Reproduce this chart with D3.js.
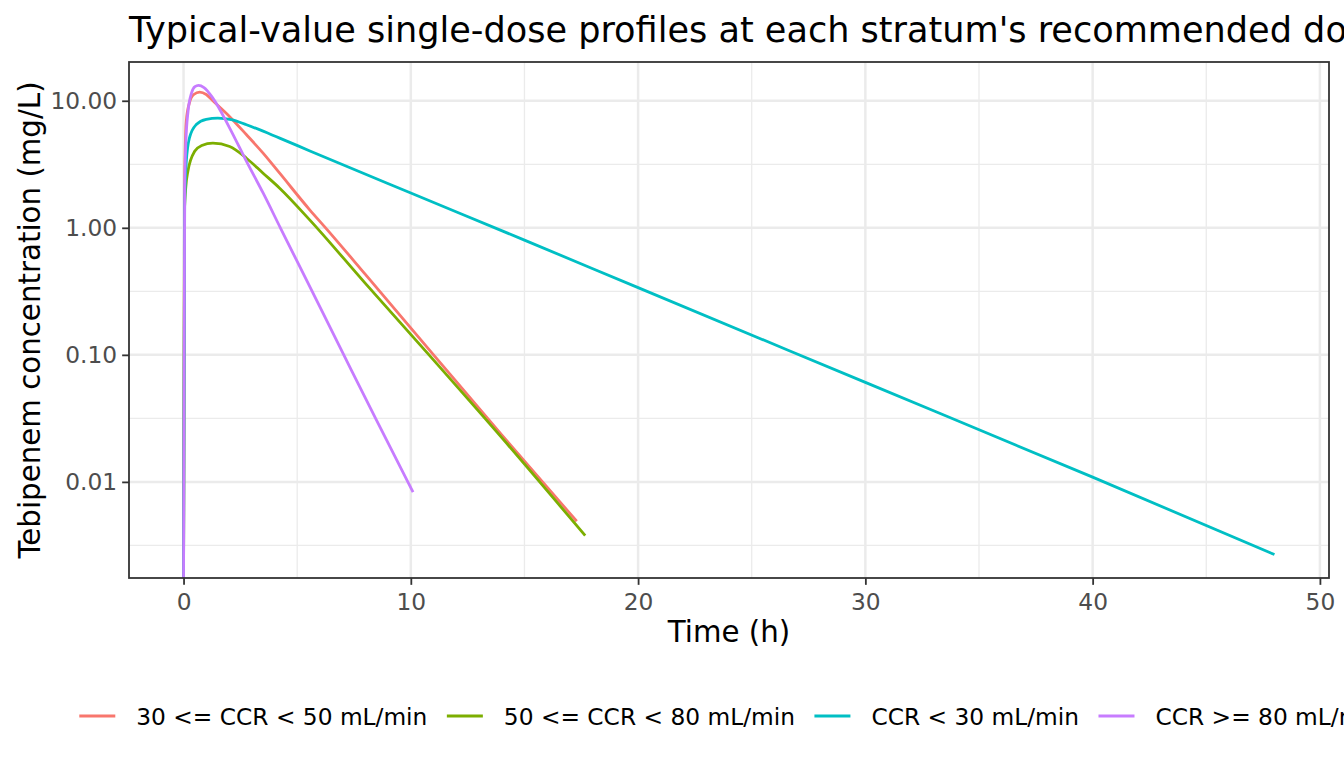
<!DOCTYPE html>
<html>
<head>
<meta charset="utf-8">
<script src="https://cdn.jsdelivr.net/npm/d3@7"></script>
<style>
  body { margin: 0; background: #fff; }
  text { font-family: "DejaVu Sans", sans-serif; }
</style>
</head>
<body>
<svg id="chart"></svg>
<script>
// values
const strata = ["30 <= CCR < 50 mL/min", "50 <= CCR < 80 mL/min", "CCR < 30 mL/min", "CCR >= 80 mL/min"]

const time30to50 = [0, 0.05, 0.12, 0.25, 0.45, 0.71, 1.0, 1.29, 2.03, 2.77, 3.5, 4.23, 5.56, 6.25, 8, 11, 14, 17.3]
const conc30to50 = [0, 2.5, 6.9, 9.5, 11.2, 11.7, 11.2, 10.0, 7.5, 5.4, 3.87, 2.69, 1.38, 1.0, 0.43, 0.1, 0.0234, 0.0049]

const time50to80 = [0, 0.04, 0.1, 0.19, 0.49, 0.8, 1.29, 2.03, 2.77, 3.5, 4.23, 5.56, 8, 10.8, 14, 17.67]
const conc50to80 = [0, 1.34, 2.1, 2.78, 4.0, 4.45, 4.64, 4.37, 3.53, 2.69, 2.05, 1.15, 0.365, 0.1, 0.0223, 0.00378]

const timeBelow30 = [0, 0.05, 0.12, 0.26, 0.56, 1.0, 1.51, 2.1, 2.77, 4.23, 5.56, 10, 15, 20, 30, 40, 48]
const concBelow30 = [0, 1.5, 3.3, 5.1, 6.5, 7.15, 7.3, 7.1, 6.47, 5.08, 4.03, 1.88, 0.80, 0.338, 0.0607, 0.0109, 0.00268]

const time80up = [0, 0.05, 0.1, 0.2, 0.35, 0.5, 0.66, 0.9, 1.29, 2.03, 2.77, 3.5, 4.26, 5.5, 7.05, 8.5, 10.1]
const conc80up = [0, 2.0, 4.6, 8.3, 11.5, 12.9, 13.2, 12.7, 10.5, 6.1, 3.33, 1.88, 1.0, 0.36, 0.1, 0.0303, 0.0083]

const xTicks = [0, 10, 20, 30, 40, 50]
const yTicks = [0.01, 0.1, 1, 10]
const yTickLabels = ["0.01", "0.10", "1.00", "10.00"]

const palette = ["#F8766D", "#7CAE00", "#00BFC4", "#C77CFF"]

const series = [
    [time30to50, conc30to50],
    [time50to80, conc50to80],
    [timeBelow30, concBelow30],
    [time80up, conc80up],
].map(([ts, cs], i) => ({
    name: strata[i],
    color: palette[i],
    values: ts.map((t, j) => ({ t: t, c: cs[j] })),
}))

const width = 1344
const height = 768
const panel = { left: 129, top: 62, right: 1329, bottom: 578 }
const smallFont = '23.3px'
const axisTitleFont = '29.3px'

const svg = d3.select('#chart')
    .attr('width', width)
    .attr('height', height)

svg.append('rect')
    .attr('width', width)
    .attr('height', height)
    .attr('fill', '#fff')

// scales with ggplot-style 5% expansion
const allPoints = series.flatMap(s => s.values)
const tMax = d3.max(allPoints, d => d.t)
const tMin = d3.min(allPoints, d => d.t)
const tPad = (tMax - tMin) * 0.05
const x = d3.scaleLinear()
    .domain([tMin - tPad, tMax + tPad])
    .range([panel.left, panel.right])

const logExtent = d3.extent(allPoints.filter(d => d.c > 0), d => Math.log10(d.c))
const logPad = (logExtent[1] - logExtent[0]) * 0.05
const y = d3.scaleLog()
    .domain([10 ** (logExtent[0] - logPad), 10 ** (logExtent[1] + logPad)])
    .range([panel.bottom, panel.top])

const xMinor = d3.pairs(xTicks).map(([a, b]) => (a + b) / 2)
const yMinor = d3.pairs(yTicks).map(([a, b]) => Math.sqrt(a * b))
    .concat([yTicks[0] / Math.sqrt(10)])
    .filter(v => v >= y.domain()[0] && v <= y.domain()[1])

const grid = svg.append('g')

grid.selectAll('.minor-x')
    .data(xMinor)
    .enter().append('line')
    .attr('x1', d => x(d)).attr('x2', d => x(d))
    .attr('y1', panel.top).attr('y2', panel.bottom)
    .attr('stroke', '#EBEBEB')
    .attr('stroke-width', 1.3)

grid.selectAll('.minor-y')
    .data(yMinor)
    .enter().append('line')
    .attr('x1', panel.left).attr('x2', panel.right)
    .attr('y1', d => y(d)).attr('y2', d => y(d))
    .attr('stroke', '#EBEBEB')
    .attr('stroke-width', 1.3)

grid.selectAll('.major-x')
    .data(xTicks)
    .enter().append('line')
    .attr('x1', d => x(d)).attr('x2', d => x(d))
    .attr('y1', panel.top).attr('y2', panel.bottom)
    .attr('stroke', '#EBEBEB')
    .attr('stroke-width', 2.5)

grid.selectAll('.major-y')
    .data(yTicks)
    .enter().append('line')
    .attr('x1', panel.left).attr('x2', panel.right)
    .attr('y1', d => y(d)).attr('y2', d => y(d))
    .attr('stroke', '#EBEBEB')
    .attr('stroke-width', 2.5)

// lines; zero concentration goes to the panel floor like ggplot's -Inf
svg.append('clipPath')
    .attr('id', 'panel-clip')
    .append('rect')
    .attr('x', panel.left).attr('y', panel.top)
    .attr('width', panel.right - panel.left)
    .attr('height', panel.bottom - panel.top)

const lineGenerator = d3.line()
    .x(d => x(d.t))
    .y(d => d.c > 0 ? y(d.c) : panel.bottom)
    .curve(d3.curveMonotoneX)

svg.append('g')
    .attr('clip-path', 'url(#panel-clip)')
    .selectAll('path')
    .data(series)
    .enter().append('path')
    .attr('d', d => lineGenerator(d.values))
    .attr('fill', 'none')
    .attr('stroke', d => d.color)
    .attr('stroke-width', 2.8)
    .attr('stroke-linejoin', 'round')

svg.append('rect')
    .attr('x', panel.left).attr('y', panel.top)
    .attr('width', panel.right - panel.left)
    .attr('height', panel.bottom - panel.top)
    .attr('fill', 'none')
    .attr('stroke', '#333333')
    .attr('stroke-width', 1.8)

// axes
const xAxis = svg.append('g')
    .attr('transform', `translate(0, ${panel.bottom})`)
    .call(d3.axisBottom(x).tickValues(xTicks).tickFormat(d3.format('d')).tickSize(6.85).tickPadding(9))

const yAxis = svg.append('g')
    .attr('transform', `translate(${panel.left}, 0)`)
    .call(d3.axisLeft(y).tickValues(yTicks).tickFormat((d, i) => yTickLabels[i]).tickSize(6.85).tickPadding(5))

;[xAxis, yAxis].forEach(ax => {
    ax.select('.domain').remove()
    ax.selectAll('.tick line')
        .attr('stroke', '#333333')
        .attr('stroke-width', 1.8)
    ax.selectAll('.tick text')
        .attr('fill', '#4D4D4D')
        .style('font-size', smallFont)
        .style('font-family', '"DejaVu Sans", sans-serif')
})

// titles (title and legend run past the right edge, as in the original)
svg.append('text')
    .attr('x', panel.left)
    .attr('y', 42)
    .style('font-size', '35.1px')
    .attr('fill', '#000')
    .text("Typical-value single-dose profiles at each stratum's recommended dose")

svg.append('text')
    .attr('x', (panel.left + panel.right) / 2)
    .attr('y', 642)
    .attr('text-anchor', 'middle')
    .style('font-size', axisTitleFont)
    .attr('fill', '#000')
    .text('Time (h)')

svg.append('text')
    .attr('transform', `translate(40, ${(panel.top + panel.bottom) / 2}) rotate(-90)`)
    .attr('text-anchor', 'middle')
    .style('font-size', axisTitleFont)
    .attr('fill', '#000')
    .text('Tebipenem concentration (mg/L)')

// legend along the bottom
const legendY = 716
const keyWidth = 36
let cursor = 79.3
const legend = svg.append('g')

series.forEach(s => {
    legend.append('line')
        .attr('x1', cursor).attr('x2', cursor + keyWidth)
        .attr('y1', legendY).attr('y2', legendY)
        .attr('stroke', s.color)
        .attr('stroke-width', 2.8)

    const label = legend.append('text')
        .attr('x', cursor + 57)
        .attr('y', legendY + 8.5)
        .style('font-size', smallFont)
        .attr('fill', '#000')
        .text(s.name)

    cursor = cursor + 57 + label.node().getComputedTextLength() + 19.5
})
</script>
</body>
</html>
